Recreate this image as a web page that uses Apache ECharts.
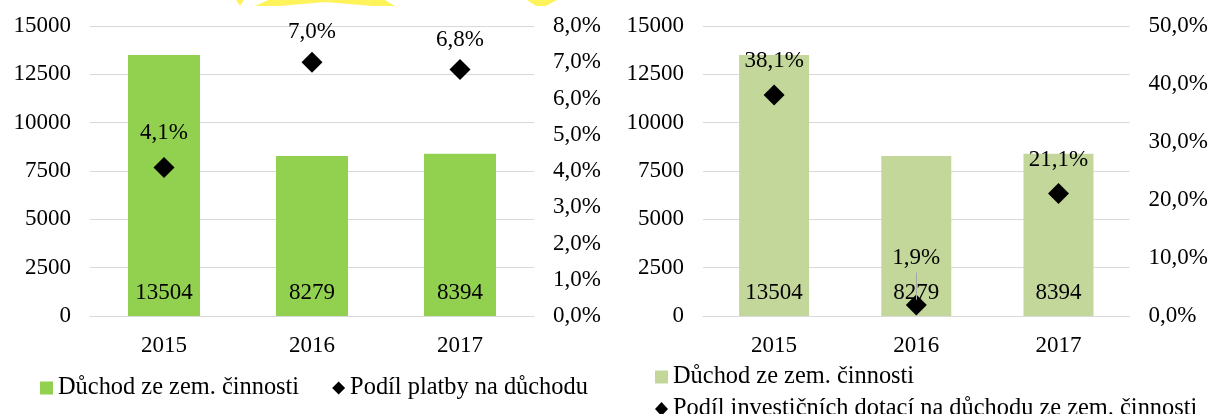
<html>
<head>
<meta charset="utf-8">
<script src="https://cdn.jsdelivr.net/npm/echarts@6/dist/echarts.min.js"></script>
</head>
<body style="margin:0">
	<div id="main" style="height: 414px; width:1211px;"></div>

	<script type="text/javascript">
		// data
		var years = [ '2015', '2016', '2017' ];
		var duchod = [ 13504, 8279, 8394 ];
		var podilPlatby = [ 0.041, 0.070, 0.068 ];
		var podilDotaci = [ 0.381, 0.019, 0.211 ];
		var leftTicks = { min : 0, max : 15000, interval : 2500 };
		var pctLeft = { min : 0, max : 0.08, interval : 0.01 };
		var pctRight = { min : 0, max : 0.5, interval : 0.1 };

		var font = 'Liberation Serif';
		var fs = 23;
		var gridColor = '#d9d9d9';

		function pct(v) {
			return (v * 100).toFixed(1).replace('.', ',') + '%';
		}
		function plain(v) {
			return '' + v;
		}

		var myChart = echarts.init(document.getElementById('main'));

		function valueAxis(grid, pos, range, fmt, split) {
			return {
				type : 'value',
				gridIndex : grid,
				position : pos,
				min : range.min,
				max : range.max,
				interval : range.interval,
				axisLine : { show : false },
				axisTick : { show : false },
				splitLine : { show : split, lineStyle : { color : gridColor, width : 1 } },
				axisLabel : {
					margin : 19,
					color : '#000',
					fontFamily : font,
					fontSize : fs,
					formatter : fmt
				}
			};
		}
		function catAxis(grid) {
			return {
				type : 'category',
				gridIndex : grid,
				data : years,
				axisLine : { lineStyle : { color : gridColor, width : 1 } },
				axisTick : { show : false },
				axisLabel : { margin : 18, color : '#000', fontFamily : font, fontSize : fs }
			};
		}
		var barLabel = {
			show : true,
			position : 'insideBottom',
			distance : 12,
			color : '#000',
			fontFamily : font,
			fontSize : fs
		};
		var dotLabel = {
			show : true,
			position : 'top',
			distance : 12,
			color : '#000',
			fontFamily : font,
			fontSize : fs,
			formatter : function(p) {
				return pct(p.value);
			}
		};
		var legendText = { color : '#000', fontFamily : font, fontSize : 24.4 };

		// 2016 and 2017 labels sit a bit closer to their markers
		var leftDots = [];
		for (var i = 0; i < podilPlatby.length; i++) {
			if (i > 0) {
				leftDots.push({ value : podilPlatby[i], label : { distance : 8 } });
			} else {
				leftDots.push(podilPlatby[i]);
			}
		}
		var rightDots = [];
		for (var i = 0; i < podilDotaci.length; i++) {
			if (i == 1) {
				rightDots.push({ value : podilDotaci[i], label : { distance : 25 } });
			} else {
				rightDots.push(podilDotaci[i]);
			}
		}

		option = {
			animation : false,
			grid : [ { left : 90, right : 677, top : 26, bottom : 98 },
					 { left : 703, right : 78, top : 26, bottom : 98 } ],
			legend : [ {
				left : 35,
				top : 371,
				itemWidth : 13,
				itemHeight : 13,
				itemGap : 33,
				textStyle : legendText,
				data : [ { name : 'Důchod ze zem. činnosti', icon : 'rect' },
						 { name : 'Podíl platby na důchodu', icon : 'diamond' } ]
			}, {
				left : 650,
				top : 360,
				itemWidth : 13,
				itemHeight : 13,
				textStyle : legendText,
				data : [ { name : 'Důchod ze zem. činnosti ', icon : 'rect' } ]
			}, {
				left : 650,
				top : 392,
				itemWidth : 13,
				itemHeight : 14,
				textStyle : legendText,
				data : [ { name : 'Podíl investičních dotací na důchodu ze zem. činnosti', icon : 'diamond' } ]
			} ],
			xAxis : [ catAxis(0), catAxis(1) ],
			yAxis : [ valueAxis(0, 'left', leftTicks, plain, true),
					  valueAxis(0, 'right', pctLeft, pct, false),
					  valueAxis(1, 'left', leftTicks, plain, true),
					  valueAxis(1, 'right', pctRight, pct, false) ],
			series : [ {
				name : 'Důchod ze zem. činnosti',
				type : 'bar',
				xAxisIndex : 0,
				yAxisIndex : 0,
				barWidth : 72,
				itemStyle : { color : '#92d050' },
				label : barLabel,
				data : duchod
			}, {
				name : 'Podíl platby na důchodu',
				type : 'scatter',
				xAxisIndex : 0,
				yAxisIndex : 1,
				symbol : 'diamond',
				symbolSize : [ 21, 21 ],
				itemStyle : { color : '#000', opacity : 1 },
				label : dotLabel,
				data : leftDots
			}, {
				name : 'Důchod ze zem. činnosti ',
				type : 'bar',
				xAxisIndex : 1,
				yAxisIndex : 2,
				barWidth : 70,
				itemStyle : { color : '#c4d79b' },
				label : barLabel,
				data : duchod
			}, {
				name : 'Podíl investičních dotací na důchodu ze zem. činnosti',
				type : 'scatter',
				xAxisIndex : 1,
				yAxisIndex : 3,
				symbol : 'diamond',
				symbolSize : [ 21, 21 ],
				itemStyle : { color : '#000', opacity : 1 },
				label : dotLabel,
				data : rightDots,
				markLine : {
					silent : true,
					symbol : 'none',
					label : { show : false },
					lineStyle : { color : '#a6a6a6', width : 1, type : 'solid' },
					data : [ [ { coord : [ '2016', 0.075 ] }, { coord : [ '2016', 0.028 ] } ] ]
				}
			} ],
			graphic : [
				{ type : 'polygon', shape : { points : [ [236, 0], [244, 0], [240, 6] ] }, style : { fill : '#fff35c' } },
				{ type : 'polygon', shape : { points : [ [255, 6], [268, 0], [385, 0], [395, 6], [372, 6], [325, 2], [280, 6] ] }, style : { fill : '#fff35c' } },
				{ type : 'polygon', shape : { points : [ [527, 0], [557, 0], [546, 6], [536, 6] ] }, style : { fill : '#fff35c' } }
			]
		};
		myChart.setOption(option);
	</script>
</body>
</html>
